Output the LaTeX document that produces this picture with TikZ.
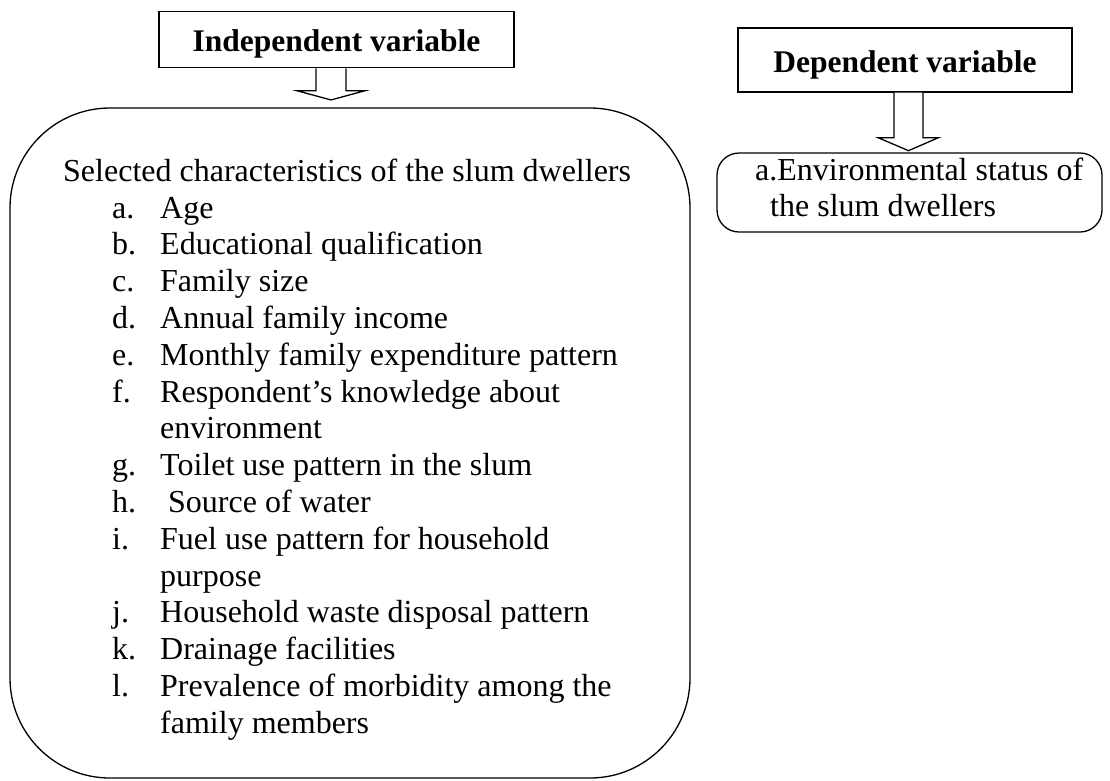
\documentclass[tikz,border=0pt]{standalone}
\usepackage{fontspec}
\setmainfont{Liberation Serif}
\usetikzlibrary{calc}
\begin{document}
\begin{tikzpicture}[x=1pt,y=-1pt,
  box/.style={draw,line width=1.3pt,inner sep=0pt},
  head/.style={anchor=base,inner sep=0pt,font=\fontsize{31.5}{36}\selectfont\bfseries},
  txt/.style={anchor=base west,inner sep=0pt,font=\fontsize{32}{36.8}\selectfont},
  blockarrow/.style={draw,line width=1.3pt,fill=white,line join=miter}]
\useasboundingbox (0,0) rectangle (1110,780);
% header boxes
\node[box,minimum width=355pt,minimum height=56pt] (indep) at (336.5,39.7) {};
\node[head] (indeptxt) at (336.5,51.7) {Independent variable};
\node[box,minimum width=334pt,minimum height=64pt] (dep) at (905,60) {};
\node[head] (deptxt) at (905,72.7) {Dependent variable};
% content boxes
\node[box,rounded corners=100pt,minimum width=680pt,minimum height=670pt] (big) at (350,443) {};
\node[box,rounded corners=22pt,minimum width=385pt,minimum height=79pt] (depbox) at (909.5,192.5) {};
% block arrows
\coordinate (a1) at ($(indep.south)+(-5.5,0)$);
\draw[blockarrow] ($(a1)+(-15,0)$) -- ++(0,22.3) -- ++(-19.3,0)
   -- ($(a1)+(0,31.6)$) -- ++(34.2,-9.3) -- ++(-19.3,0) -- ++(0,-22.3);
\coordinate (a2) at ($(dep.south)+(3.5,0)$);
\draw[blockarrow] ($(a2)+(-14.5,0)$) -- ++(0,45) -- ++(-16,0)
   -- ($(a2)+(0,58)$) -- ++(30,-13) -- ++(-15.5,0) -- ++(0,-45);
% independent text
\node[txt] (sel) at (63,181.7) {Selected characteristics of the slum dwellers};
\foreach \lab/\item/\k [count=\i] in {
  a./Age/0, b./Educational qualification/1, c./Family size/2,
  d./Annual family income/3, e./Monthly family expenditure pattern/4,
  f./Respondent’s knowledge about/5, g./Toilet use pattern in the slum/7,
  i./Fuel use pattern for household/9, j./Household waste disposal pattern/11,
  k./Drainage facilities/12, l./Prevalence of morbidity among the/13}{
  \node[txt] (lab\i) at (112,{218+36.8*\k}) {\lab};
  \node[txt] (item\i) at (160,{218+36.8*\k}) {\item};
}
\node[txt] (labh) at (112,{218+36.8*8}) {h.};
\node[txt] (itemh) at (168,{218+36.8*8}) {Source of water};
\node[txt] (cont1) at (160,{218+36.8*6}) {environment};
\node[txt] (cont2) at (160,{218+36.8*10}) {purpose};
\node[txt] (cont3) at (160,{218+36.8*14}) {family members};
% dependent text
\node[txt] (dep1) at (755,180) {a.Environmental status of};
\node[txt] (dep2) at (770,216.7) {the slum dwellers};
\end{tikzpicture}
\end{document}
